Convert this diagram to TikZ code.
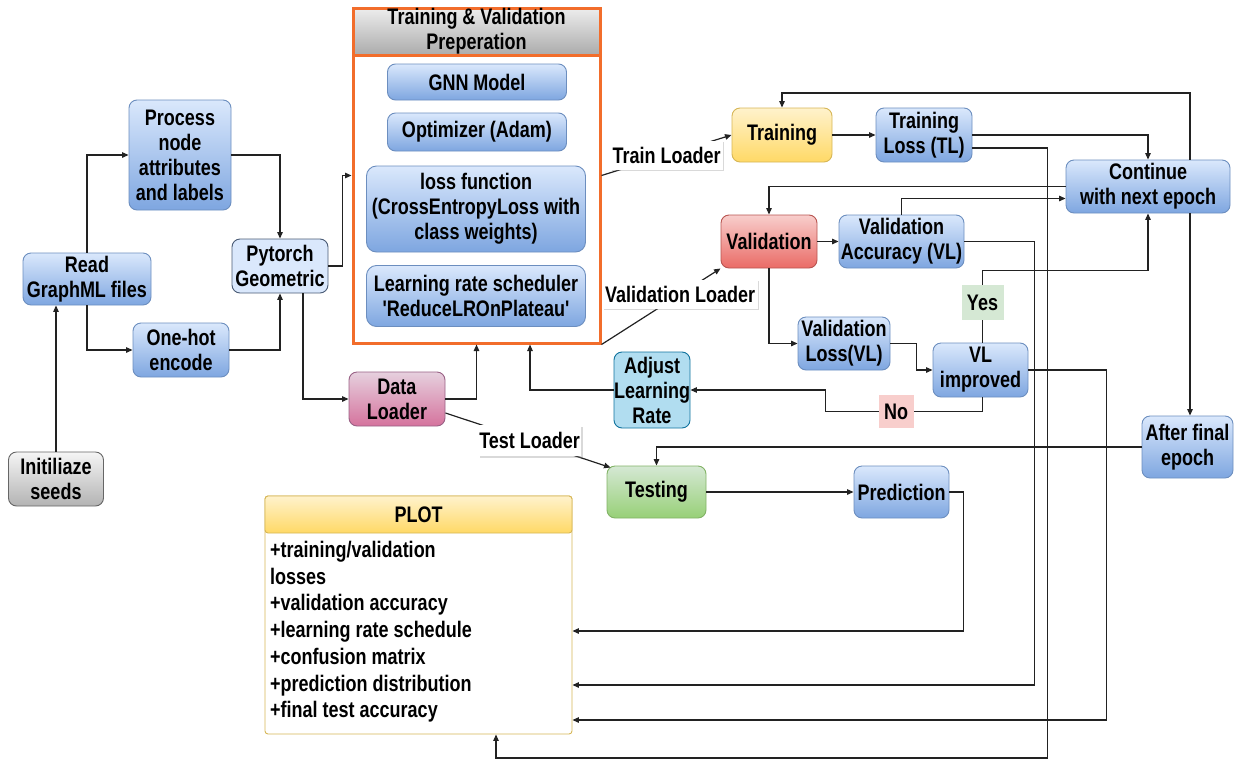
\documentclass[tikz,border=0pt]{standalone}
\usepackage{fontspec}
\setmainfont{Liberation Sans}[FakeStretch=0.80]
\newfontfamily\straightq{Liberation Sans}[FakeStretch=0.80]
\usetikzlibrary{arrows.meta,shadows}

\definecolor{bTop}{HTML}{DAE8FC}
\definecolor{bBot}{HTML}{7EA6E0}
\definecolor{bEdge}{HTML}{6C8EBF}
\definecolor{yTop}{HTML}{FFF2CC}
\definecolor{yBot}{HTML}{FFD966}
\definecolor{yEdge}{HTML}{D6B656}
\definecolor{rTop}{HTML}{F8CECC}
\definecolor{rBot}{HTML}{EA6B66}
\definecolor{rEdge}{HTML}{B85450}
\definecolor{pTop}{HTML}{E6D0DE}
\definecolor{pBot}{HTML}{D5739D}
\definecolor{pEdge}{HTML}{996185}
\definecolor{gTop}{HTML}{D5E8D4}
\definecolor{gBot}{HTML}{97D077}
\definecolor{gEdge}{HTML}{82B366}
\definecolor{sTop}{HTML}{F5F5F5}
\definecolor{sBot}{HTML}{B3B3B3}
\definecolor{sEdge}{HTML}{666666}
\definecolor{cFill}{HTML}{B1DDF0}
\definecolor{cEdge}{HTML}{10739E}
\definecolor{pygFill}{HTML}{DAE8FC}
\definecolor{pygEdge}{HTML}{4A5B75}
\definecolor{hTop}{HTML}{EDEDED}
\definecolor{hBot}{HTML}{ABABAB}
\definecolor{orangeC}{HTML}{F26D2B}
\definecolor{yesC}{HTML}{D5E8D4}
\definecolor{noC}{HTML}{F8CECC}
\definecolor{lineC}{HTML}{222222}

% straight apostrophe, set without the TeX quote ligatures
\newcommand{\sq}{{\straightq\bfseries'}}

\begin{document}
\begin{tikzpicture}[x=1pt,y=-1pt,
  txt/.style={font=\fontsize{22.5}{25}\selectfont\bfseries},
  base/.style={txt, rounded corners=8pt, align=center, inner sep=0pt, line width=0.9pt},
  sz/.style 2 args={minimum width=#1pt, minimum height=#2pt},
  bluebox/.style={base, draw=bEdge, top color=bTop, bottom color=bBot},
  yellowbox/.style={base, draw=yEdge, top color=yTop, bottom color=yBot},
  redbox/.style={base, draw=rEdge, top color=rTop, bottom color=rBot},
  pinkbox/.style={base, draw=pEdge, top color=pTop, bottom color=pBot},
  greenbox/.style={base, draw=gEdge, top color=gTop, bottom color=gBot},
  graybox/.style={base, draw=sEdge, top color=sTop, bottom color=sBot},
  cyanbox/.style={base, draw=cEdge, fill=cFill},
  pygbox/.style={base, draw=pygEdge, fill=pygFill},
  arr/.style={draw=lineC, line width=1.2pt, -{Triangle[length=6.5pt,width=5.5pt]}},
  lbl/.style={txt, fill=white, inner sep=0pt,
    drop shadow={opacity=0.3, shadow xshift=1.5pt, shadow yshift=-1.5pt}},
  yesl/.style={txt, fill=yesC, inner sep=0pt, sz={42}{35}},
  nol/.style={txt, fill=noC, inner sep=0pt, sz={35}{33}},
]
\useasboundingbox (0,0) rectangle (1235,761);

% ---------- data preparation ----------
\node[graybox, sz={95}{54}] (seeds) at (56,479) {Initiliaze\\seeds};
\node[bluebox, sz={128}{52}] (read) at (87,279) {Read\\GraphML files};
\node[bluebox, sz={102}{110}] (proc) at (180,155) {Process\\node\\attributes\\and labels};
\node[bluebox, sz={96}{54}] (onehot) at (181,350) {One-hot\\encode};
\node[pygbox, sz={96}{54}] (pyg) at (280,266) {Pytorch\\Geometric};
\node[pinkbox, sz={96}{54}] (dl) at (397,399) {Data\\Loader};

% ---------- training & validation preparation ----------
\node[draw=orangeC, line width=3pt, fill=white, sz={247}{335}] (prep) at (476.5,175.5) {};
\node[draw=orangeC, line width=3pt, top color=hTop, bottom color=hBot, txt, align=center,
      inner sep=0pt, sz={247}{47}] (prephead) at (476.5,31.5) {Training \& Validation\\Preperation};
\node[bluebox, sz={179}{36}] (gnn) at (477,82) {GNN Model};
\node[bluebox, sz={179}{38}] (opt) at (477,132) {Optimizer (Adam)};
\node[bluebox, sz={219}{86}, rounded corners=10pt] (loss) at (476,209) {loss function\\(CrossEntropyLoss with\\class weights)};
\node[bluebox, sz={219}{61}, rounded corners=10pt] (lrs) at (476,296) {Learning rate scheduler\\\sq ReduceLROnPlateau\sq};

% ---------- training loop ----------
\node[yellowbox, sz={100}{54}] (training) at (782,135) {Training};
\node[bluebox, sz={96}{54}] (tl) at (924,135) {Training\\Loss (TL)};
\node[bluebox, sz={164}{53}] (cont) at (1148,186.5) {Continue\\with next epoch};
\node[redbox, sz={96}{53}] (valid) at (769,241.5) {Validation};
\node[bluebox, sz={125}{53}] (va) at (901.5,241.5) {Validation\\Accuracy (VL)};
\node[bluebox, sz={92}{53}] (vloss) at (844,343.5) {Validation\\Loss(VL)};
\node[bluebox, sz={95}{54}] (vlimp) at (980.5,370) {VL\\improved};
\node[cyanbox, sz={68}{76}] (adjust) at (652,390) {Adjust\\Learning\\Rate};
\node[bluebox, sz={91}{62}] (after) at (1187.5,447) {After final\\epoch};
\node[greenbox, sz={99}{52}] (testing) at (656.5,492) {Testing};
\node[bluebox, sz={95}{52}] (pred) at (901.5,492) {Prediction};

% ---------- plot panel ----------
\node[draw=yEdge, line width=0.9pt, fill=white, rounded corners=3pt, sz={307}{238}] (plot) at (418.5,615) {};
\node[draw=yEdge, line width=0.9pt, top color=yTop, bottom color=yBot, rounded corners=3pt,
      txt, inner sep=0pt, sz={307}{37}] (plothead) at (418.5,514.5) {PLOT};
\node[txt, font=\fontsize{22.5}{26.7}\selectfont\bfseries, align=left, anchor=north west, inner sep=0pt]
  (plottext) at (270,541) {+training/validation\\losses\\+validation accuracy\\+learning rate schedule\\+confusion matrix\\+prediction distribution\\+final test accuracy};

\coordinate (topy) at (0,93);
\coordinate (pb) at (496,758);
\coordinate (py1) at (0,631);
\coordinate (py2) at (0,685);
\coordinate (py3) at (0,720);
\coordinate (cx) at ([xshift=42pt]cont.south);

% ---------- connectors ----------
\draw[arr] (seeds.north) -- (seeds.north |- read.south);
\draw[arr] (read.north) |- (proc.west);
\draw[arr] (read.south) |- (onehot.west);
\draw[arr] (proc.east) -| (pyg.north);
\draw[arr] (onehot.east) -| (pyg.south);
\draw[arr] (pyg.east) -- ++(14,0) |- (prep.west);
\draw[arr] ([xshift=23pt]pyg.south) |- (dl.west);
\draw[arr] (dl.east) -| (prep.south);
\draw[arr] ([yshift=-14pt]dl.east) -- node[lbl, sz={103}{31}, pos=0.51] {Test Loader} ([xshift=4pt,yshift=-2pt]testing.north west);

\draw[arr] (prep.east) -- node[lbl, sz={112}{29}] {Train Loader} (training.west);
\draw[arr] (prep.south east) -- node[lbl, sz={155}{29}, pos=0.66] {Validation Loader} (valid.south west);

\draw[arr] (training) -- (tl);
\draw[arr] (tl.east) -| (cont.north);
\draw[arr] ([yshift=-13pt]tl.east) -- ++(75,0) |- (pb) -- (pb |- plot.south);
\draw[arr] ([xshift=42pt]cont.north) |- (training.north |- topy) -- (training.north);
\draw[arr] (cx) -- (cx |- after.north);
\draw[arr] (cont.west) -| (valid.north);
\draw[arr] (va.north) |- ([yshift=-12pt]cont.west);
\draw[arr] (valid) -- (va);
\draw[arr] (valid.south) |- (vloss.west);
\draw[arr] (vloss.east) -- ++(26,0) |- (vlimp.west);
\draw[arr] ([xshift=2pt]vlimp.north) -- node[yesl, pos=0.55] {Yes} ++(0,-72) -| (cont.south);
\draw[arr] ([xshift=2pt]vlimp.south) -- ++(0,14) -- node[nol, pos=0.55] {No} ++(-157,0) |- (adjust.east);
\draw[arr] (adjust.west) -| ([xshift=53.5pt]prep.south);
\draw[arr] (after.west) -| (testing.north);
\draw[arr] (testing) -- (pred);
\draw[arr] (pred.east) -- ++(14,0) |- (plot.east |- py1);
\draw[arr] (va.east) -- ++(70,0) |- (plot.east |- py2);
\draw[arr] (vlimp.east) -- ++(78,0) |- (plot.east |- py3);
\end{tikzpicture}
\end{document}
